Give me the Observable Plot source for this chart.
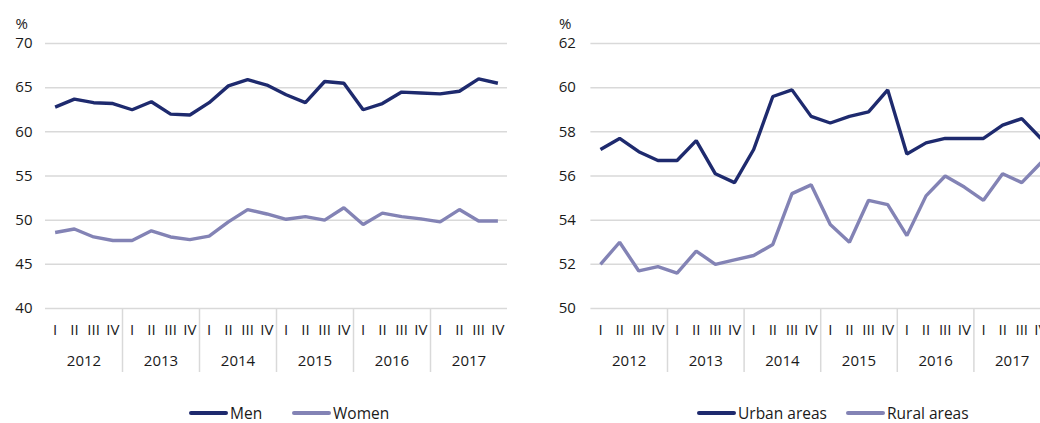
<!DOCTYPE html>
<html>
<head>
<meta charset="utf-8">
<script src="https://cdn.jsdelivr.net/npm/d3@7"></script>
<script src="https://cdn.jsdelivr.net/npm/@observablehq/plot@0.6"></script>
<style>
  html, body { margin: 0; padding: 0; background: #fff; }
  #wrap { position: relative; width: 1040px; height: 423px; overflow: hidden; font-family: "Open Sans", sans-serif; color: #1a1a1a; }
  #left { position: absolute; left: 0; top: 0; width: 520px; }
  #right { position: absolute; left: 520px; top: 0; width: 540px; }
  #wrap svg { max-width: none !important; }
  .leg { position: absolute; top: 404px; height: 18px; line-height: 18px; font-size: 15.5px; display: flex; align-items: center; white-space: nowrap; }
  .sw { display: inline-block; width: 39px; height: 4px; border-radius: 2px; margin-right: 2px; }
</style>
</head>
<body>
<div id="wrap">
  <div id="left"></div>
  <div id="right"></div>
  <div class="leg" style="left:189px"><span class="sw" style="background:#1e2a6e"></span>Men</div>
  <div class="leg" style="left:292px"><span class="sw" style="background:#8383b5"></span>Women</div>
  <div class="leg" style="left:697px"><span class="sw" style="background:#1e2a6e"></span>Urban areas</div>
  <div class="leg" style="left:846px"><span class="sw" style="background:#8383b5"></span>Rural areas</div>
</div>
<script>
const years = ["2012", "2013", "2014", "2015", "2016", "2017"];
const quarters = ["I", "II", "III", "IV"];

const men   = [62.8, 63.7, 63.3, 63.2, 62.5, 63.4, 62.0, 61.9, 63.3, 65.2, 65.9, 65.3, 64.2, 63.3, 65.7, 65.5, 62.5, 63.2, 64.5, 64.4, 64.3, 64.6, 66.0, 65.5];
const women = [48.6, 49.0, 48.1, 47.7, 47.7, 48.8, 48.1, 47.8, 48.2, 49.8, 51.2, 50.7, 50.1, 50.4, 50.0, 51.4, 49.5, 50.8, 50.4, 50.15, 49.8, 51.2, 49.9, 49.9];
const urban = [57.2, 57.7, 57.1, 56.7, 56.7, 57.6, 56.1, 55.7, 57.2, 59.6, 59.9, 58.7, 58.4, 58.7, 58.9, 59.9, 57.0, 57.5, 57.7, 57.7, 57.7, 58.3, 58.6, 57.7];
const rural = [52.0, 53.0, 51.7, 51.9, 51.6, 52.6, 52.0, 52.2, 52.4, 52.9, 55.2, 55.6, 53.8, 53.0, 54.9, 54.7, 53.3, 55.1, 56.0, 55.5, 54.9, 56.1, 55.7, 56.6];

const leftTicks = [40, 45, 50, 55, 60, 65, 70];
const rightTicks = [50, 52, 54, 56, 58, 60, 62];

const DARK = "#1e2a6e";
const LIGHT = "#8383b5";
const GRID = "#d9d9d9";
const FONT = '"Open Sans", sans-serif';

const n = years.length * quarters.length;
const idx = d3.range(n);
const breaks = years.slice(1).map((y, i) => (i + 1) * quarters.length - 0.5);
const yearCenters = years.map((y, i) => ({year: y, x: i * quarters.length + (quarters.length - 1) / 2}));

function series(a, b, nameA, nameB) {
  return [
    ...a.map((v, i) => ({i, v, s: nameA})),
    ...b.map((v, i) => ({i, v, s: nameB}))
  ];
}

function chart({width, marginLeft, marginRight, ticks, data, names, pad}) {
  const height = 380, marginTop = 43, marginBottom = 72;
  return Plot.plot({
    width, height, marginLeft, marginRight, marginTop, marginBottom,
    style: {fontFamily: FONT, fontSize: "15px", color: "#1a1a1a", background: "transparent", overflow: "visible", maxWidth: "none"},
    x: {domain: [-0.5, n - 0.5], axis: null},
    y: {domain: [ticks[0], ticks[ticks.length - 1]], axis: null},
    color: {domain: names, range: [DARK, LIGHT]},
    marks: [
      Plot.gridY(ticks, {stroke: GRID, strokeOpacity: 1, strokeWidth: 1.5}),
      Plot.axisY({ticks, tickSize: 0, tickPadding: pad, label: null, fontSize: 15, fontFamily: FONT}),
      Plot.axisX({ticks: idx, tickSize: 0, tickPadding: 16, label: null, fontSize: 15, fontFamily: FONT,
                  tickFormat: i => quarters[i % quarters.length]}),
      Plot.ruleX(breaks, {stroke: GRID, strokeWidth: 1.5, insetTop: height - marginTop - marginBottom, insetBottom: -64}),
      Plot.text(yearCenters, {x: "x", text: "year", frameAnchor: "bottom", dy: 57, fontSize: 15, fontFamily: FONT}),
      Plot.text(["%"], {frameAnchor: "top-left", textAnchor: "start", dx: -(pad + 17), dy: -25, fontSize: 15, fontFamily: FONT}),
      Plot.lineY(data, {x: "i", y: "v", z: "s", stroke: "s", strokeWidth: 3.4, strokeLinejoin: "miter", strokeLinecap: "butt"})
    ]
  });
}

document.getElementById("left").appendChild(chart({
  width: 520, marginLeft: 45, marginRight: 13, ticks: leftTicks,
  data: series(men, women, "Men", "Women"), names: ["Men", "Women"], pad: 13
}));
document.getElementById("right").appendChild(chart({
  width: 540, marginLeft: 70.4, marginRight: 10, ticks: rightTicks,
  data: series(urban, rural, "Urban areas", "Rural areas"), names: ["Urban areas", "Rural areas"], pad: 15
}));
</script>
</body>
</html>
